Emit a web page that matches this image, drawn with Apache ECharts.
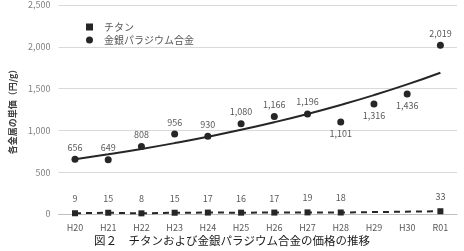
<!DOCTYPE html>
<html>
<head>
<meta charset="utf-8">
<script src="https://cdn.jsdelivr.net/npm/echarts@6/dist/echarts.min.js"></script>
<style>
  html, body { margin: 0; padding: 0; background: #fff; }
  #chart { width: 464px; height: 251px; }
</style>
</head>
<body>
<div id="chart"></div>
<script>
// 年度
var years = ['H20', 'H21', 'H22', 'H23', 'H24', 'H25', 'H26', 'H27', 'H28', 'H29', 'H30', 'R01'];
// チタン (H29, H30 は値なし)
var titan = [9, 15, 8, 15, 17, 16, 17, 19, 18, null, null, 33];
// 金銀パラジウム合金
var kinpara = [656, 649, 808, 956, 930, 1080, 1166, 1196, 1101, 1316, 1436, 2019];
// 近似曲線
var kinparaTrend = [655, 714, 778, 848, 924, 1007, 1098, 1197, 1305, 1422, 1550, 1690];
// ラベルを下に置く点
var below = ['H28', 'H29', 'H30'];
var yTicks = [0, 500, 1000, 1500, 2000, 2500];

var chart = echarts.init(document.getElementById('chart'));
var font = '"Noto Sans CJK JP", "Noto Sans", sans-serif';

chart.setOption({
  animation: false,
  textStyle: { fontFamily: font },
  grid: { left: 53, right: 7, top: 5, bottom: 37 },
  legend: {
    left: 81, top: 17, orient: 'vertical', itemGap: 3,
    itemWidth: 7, itemHeight: 7,
    textStyle: { color: '#595959', fontSize: 10, fontFamily: font, padding: [0, 0, 0, 6] },
    data: [
      { name: 'チタン', icon: 'rect', itemStyle: { color: '#262626', opacity: 1 } },
      { name: '金銀パラジウム合金', icon: 'circle', itemStyle: { color: '#262626', opacity: 1 } }
    ]
  },
  xAxis: {
    type: 'category',
    data: years,
    axisTick: { show: false },
    axisLine: { lineStyle: { color: '#bfbfbf' } },
    axisLabel: { color: '#595959', fontSize: 9, margin: 9 }
  },
  yAxis: {
    type: 'value',
    min: yTicks[0], max: yTicks[yTicks.length - 1], interval: 500,
    name: '各金属の単価（円/g）',
    nameLocation: 'middle', nameGap: 40, nameRotate: 90,
    nameTextStyle: { color: '#404040', fontSize: 9, fontWeight: 'bold' },
    axisLine: { show: false },
    axisTick: { show: false },
    axisLabel: {
      color: '#7f7f7f', fontSize: 9,
      formatter: function (v) { return v.toLocaleString('en-US'); }
    },
    splitLine: { lineStyle: { color: '#d9d9d9', width: 1 } }
  },
  series: [
    {
      name: 'チタン',
      type: 'line',
      data: titan,
      connectNulls: true,
      symbol: 'rect', symbolSize: 6,
      itemStyle: { color: '#262626' },
      lineStyle: { color: '#262626', width: 2, type: [6, 5] },
      label: { show: true, position: 'top', distance: 7, color: '#595959', fontSize: 9 },
      labelLayout: { moveOverlap: false, hideOverlap: false },
      z: 3
    },
    {
      name: '金銀パラジウム合金',
      type: 'scatter',
      data: kinpara.map(function (v, i) {
        return {
          value: v,
          label: { position: below.indexOf(years[i]) >= 0 ? 'bottom' : 'top' }
        };
      }),
      symbol: 'circle', symbolSize: 7,
      itemStyle: { color: '#262626', opacity: 1 },
      label: {
        show: true, distance: 4, color: '#595959', fontSize: 9,
        formatter: function (p) { return p.value.toLocaleString('en-US'); }
      },
      labelLayout: { moveOverlap: false, hideOverlap: false },
      z: 4
    },
    {
      name: 'trend',
      type: 'line',
      data: kinparaTrend,
      smooth: true,
      symbol: 'none',
      lineStyle: { color: '#262626', width: 2 },
      silent: true,
      z: 2
    }
  ],
  graphic: [{
    type: 'text',
    left: 'center', top: 235,
    style: {
      text: '図２　チタンおよび金銀パラジウム合金の価格の推移',
      fill: '#1a1a1a', fontSize: 11.5, fontFamily: font
    }
  }]
});
</script>
</body>
</html>
